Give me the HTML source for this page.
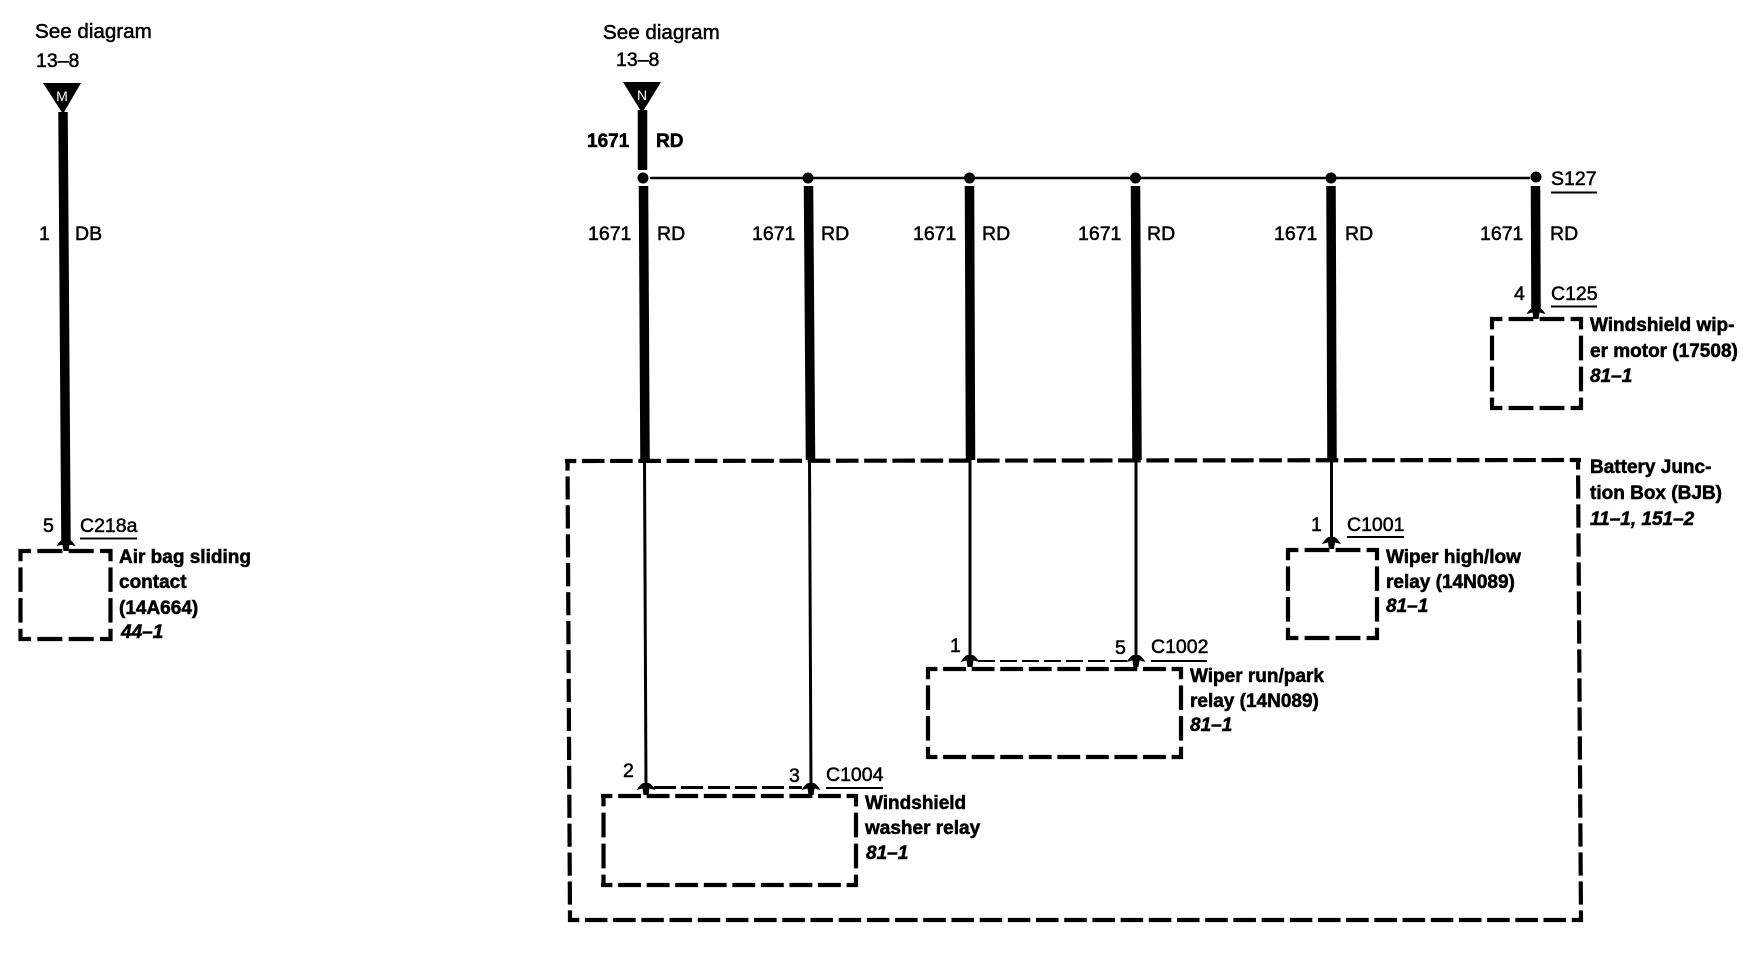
<!DOCTYPE html>
<html><head><meta charset="utf-8"><style>
html,body{margin:0;padding:0;background:#fff;width:1748px;height:960px;overflow:hidden}
svg{display:block}
text{font-family:"Liberation Sans",sans-serif;font-size:19.5px;fill:#000;stroke:#000;stroke-width:.5}
.s{font-size:20.6px}
.b{font-weight:bold;font-size:19px;stroke-width:.55}
.i{font-weight:bold;font-style:italic;font-size:19px;stroke-width:.55}
.w{fill:#fff;stroke:none;font-size:14px;text-anchor:middle}
.d{fill:none;stroke:#000;stroke-width:4.2;stroke-dasharray:.8 .2;stroke-dashoffset:.4}
.l{fill:none;stroke:#000}
</style></head><body>
<svg width="1748" height="960" viewBox="0 0 1748 960" xmlns="http://www.w3.org/2000/svg">
<defs>
<g id="a"><path d="M-9.5 7 Q-6 1.5 -3 0 L3 0 Q6 1.5 9.5 7 L3.5 5.5 L2.5 12 L-2.5 12 L-3.5 5.5 Z" fill="#000"/></g>
</defs>
<!-- left -->
<text class="s" x="35" y="38">See diagram</text>
<text x="36" y="67">13–8</text>
<path d="M43 83 L81 83 L63 114 Z" fill="#000"/>
<text class="w" x="62" y="101">M</text>
<path class="l" d="M63 112 L66 545" stroke-width="9.5"/>
<text x="39" y="240">1</text><text x="75" y="240">DB</text>
<text x="43" y="532">5</text><text x="80" y="532">C218a</text>
<path class="l" d="M80 538.5H137" stroke-width="2"/>
<use href="#a" x="66" y="539"/>
<path class="d" pathLength="3" d="M18.5 551H112.5"/>
<path class="d" pathLength="3" d="M20.5 549V641"/>
<path class="d" pathLength="3" d="M110.5 549V641"/>
<path class="d" pathLength="3" d="M18.5 639H112.5"/>
<text class="b" x="119" y="563">Air bag sliding</text>
<text class="b" x="119" y="588">contact</text>
<text class="b" x="119" y="614">(14A664)</text>
<text class="i" x="121" y="638">44–1</text>
<!-- top right -->
<text class="s" x="603" y="39">See diagram</text>
<text x="616" y="66">13–8</text>
<path d="M623 82 L661 82 L642 113 Z" fill="#000"/>
<text class="w" x="642" y="100">N</text>
<path class="l" d="M642.5 110V170" stroke-width="9.5"/>
<text class="b" x="587" y="147">1671</text><text class="b" x="656" y="147">RD</text>
<path class="l" d="M650 178H1530" stroke-width="2.6"/>
<g fill="#000">
<circle cx="643" cy="178" r="5.5"/><circle cx="808" cy="178" r="5.5"/><circle cx="969.5" cy="178" r="5.5"/><circle cx="1135.5" cy="178" r="5.5"/><circle cx="1331" cy="178" r="5.5"/><circle cx="1536" cy="177" r="5.5"/>
</g>
<g stroke-width="9.5" fill="none" stroke="#000">
<path d="M643.5 186L645 460"/><path d="M808.5 186L810.5 460"/><path d="M969.5 186L970.5 460"/><path d="M1135.5 186L1137 460"/><path d="M1331 186L1332 460"/><path d="M1535.5 186L1536 312"/>
</g>
<g stroke="#000" stroke-width="3" fill="none">
<path d="M644.5 460L646 790"/><path d="M809.5 460L811 790"/><path d="M970 460L970 662"/><path d="M1136 460L1136 662"/><path d="M1331.5 460L1331.5 540"/>
</g>
<text x="588" y="240">1671</text><text x="657" y="240">RD</text>
<text x="752" y="240">1671</text><text x="821" y="240">RD</text>
<text x="913" y="240">1671</text><text x="982" y="240">RD</text>
<text x="1078" y="240">1671</text><text x="1147" y="240">RD</text>
<text x="1274" y="240">1671</text><text x="1345" y="240">RD</text>
<text x="1480" y="240">1671</text><text x="1550" y="240">RD</text>
<text x="1551" y="185">S127</text><path class="l" d="M1551 192.5H1597" stroke-width="2"/>
<text x="1514" y="300">4</text><text x="1551" y="300">C125</text><path class="l" d="M1551 306.5H1597" stroke-width="2"/>
<use href="#a" x="1536" y="307"/>
<path class="d" pathLength="3" d="M1490 319H1583"/>
<path class="d" pathLength="3" d="M1492 317V410"/>
<path class="d" pathLength="3" d="M1581 317V410"/>
<path class="d" pathLength="3" d="M1490 408H1583"/>
<text class="b" x="1590" y="331">Windshield wip-</text>
<text class="b" x="1590" y="357">er motor (17508)</text>
<text class="i" x="1590" y="382">81–1</text>
<!-- big box -->
<path class="d" pathLength="36" d="M565 461L1581 460"/>
<path class="d" pathLength="16" d="M567.5 459L570 922"/>
<path class="d" pathLength="16" d="M1578 458L1581 922"/>
<path class="d" pathLength="36" d="M568 920H1583"/>
<text class="b" x="1590" y="473">Battery Junc-</text>
<text class="b" x="1590" y="499">tion Box (BJB)</text>
<text class="i" x="1590" y="525">11–1, 151–2</text>
<!-- C1001 -->
<text x="1311" y="531">1</text><text x="1347" y="531">C1001</text><path class="l" d="M1347 537H1404" stroke-width="2"/>
<use href="#a" x="1331.5" y="537"/>
<path class="d" pathLength="3" d="M1286 550H1379"/>
<path class="d" pathLength="3" d="M1288 548V640"/>
<path class="d" pathLength="3" d="M1377 548V640"/>
<path class="d" pathLength="3" d="M1286 638H1379"/>
<text class="b" x="1386" y="563">Wiper high/low</text>
<text class="b" x="1386" y="588">relay (14N089)</text>
<text class="i" x="1386" y="612">81–1</text>
<!-- C1002 -->
<text x="950" y="652">1</text><text x="1115" y="654">5</text><text x="1151" y="653">C1002</text>
<path class="l" d="M1151 661H1207" stroke-width="2"/>
<path d="M978 661H1128" stroke="#000" stroke-width="2" stroke-dasharray="17 5" fill="none"/>
<use href="#a" x="970" y="655"/><use href="#a" x="1136" y="655"/>
<path class="d" pathLength="9" d="M926 669H1183"/>
<path class="d" pathLength="3" d="M928 667V759"/>
<path class="d" pathLength="3" d="M1181 667V759"/>
<path class="d" pathLength="9" d="M926 757H1183"/>
<text class="b" x="1190" y="682">Wiper run/park</text>
<text class="b" x="1190" y="707">relay (14N089)</text>
<text class="i" x="1190" y="731">81–1</text>
<!-- C1004 -->
<text x="623" y="777">2</text><text x="789" y="782">3</text><text x="826" y="781">C1004</text>
<path class="l" d="M826 788H883" stroke-width="2"/>
<path d="M654 787.5H802" stroke="#000" stroke-width="3" stroke-dasharray="22 5" fill="none"/>
<use href="#a" x="646" y="783"/><use href="#a" x="811" y="783"/>
<path class="d" pathLength="9" d="M601 796H858"/>
<path class="d" pathLength="3" d="M603.5 794V887"/>
<path class="d" pathLength="3" d="M856 794V887"/>
<path class="d" pathLength="9" d="M601 885H858"/>
<text class="b" x="865" y="809">Windshield</text>
<text class="b" x="865" y="834">washer relay</text>
<text class="i" x="866" y="859">81–1</text>
</svg>
</body></html>
